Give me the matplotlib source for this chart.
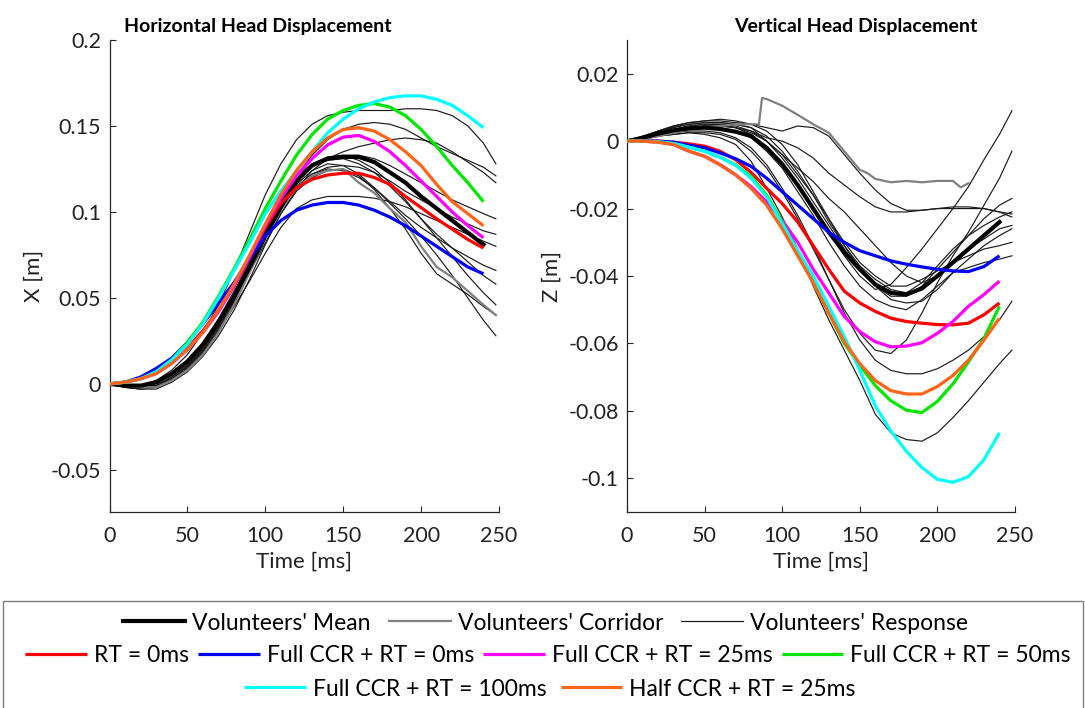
import numpy as np
import matplotlib
matplotlib.use("Agg")
import matplotlib.pyplot as plt
from matplotlib.patches import Rectangle
from matplotlib.ticker import FixedLocator, FixedFormatter
from matplotlib.font_manager import FontProperties

# ---------------- data ----------------
T_VOL = [0, 10, 20, 30, 40, 50, 60, 70, 80, 90, 100, 110, 120, 130, 140, 150,
         160, 170, 180, 190, 200, 210, 220, 230, 240, 248]
T_MOD = [0, 10, 20, 30, 40, 50, 60, 70, 80, 90, 100, 110, 120, 130, 140, 150,
         160, 170, 180, 190, 200, 210, 220, 230, 240]

# Horizontal (X) - volunteers' responses
x_vol_1 = [0, -0.001, -0.001, 0.002, 0.008, 0.017, 0.030, 0.046, 0.066, 0.088, 0.110, 0.128, 0.142, 0.151, 0.156, 0.158, 0.159, 0.159, 0.159, 0.160, 0.160, 0.159, 0.156, 0.150, 0.140, 0.128]
x_vol_2 = [0, -0.001, -0.002, 0.000, 0.005, 0.013, 0.024, 0.038, 0.054, 0.071, 0.089, 0.106, 0.121, 0.133, 0.142, 0.148, 0.151, 0.152, 0.151, 0.148, 0.143, 0.138, 0.134, 0.130, 0.126, 0.121]
x_vol_3 = [0, -0.001, -0.002, -0.001, 0.004, 0.011, 0.021, 0.034, 0.049, 0.065, 0.082, 0.099, 0.113, 0.124, 0.131, 0.135, 0.138, 0.140, 0.142, 0.143, 0.142, 0.140, 0.135, 0.129, 0.123, 0.117]
x_vol_4 = [0, -0.001, -0.002, -0.001, 0.004, 0.011, 0.021, 0.035, 0.051, 0.069, 0.088, 0.105, 0.119, 0.127, 0.131, 0.133, 0.133, 0.131, 0.127, 0.122, 0.117, 0.112, 0.107, 0.103, 0.099, 0.096]
x_vol_5 = [0, -0.002, -0.003, -0.002, 0.002, 0.009, 0.019, 0.032, 0.048, 0.066, 0.085, 0.101, 0.114, 0.122, 0.126, 0.127, 0.126, 0.123, 0.118, 0.112, 0.107, 0.102, 0.097, 0.093, 0.089, 0.087]
x_vol_6 = [0, -0.001, -0.002, -0.001, 0.003, 0.010, 0.019, 0.031, 0.045, 0.060, 0.076, 0.091, 0.102, 0.107, 0.109, 0.109, 0.109, 0.108, 0.106, 0.103, 0.099, 0.095, 0.091, 0.087, 0.083, 0.080]
x_vol_7 = [0, -0.002, -0.003, -0.002, 0.002, 0.008, 0.017, 0.030, 0.046, 0.065, 0.085, 0.102, 0.115, 0.122, 0.125, 0.124, 0.120, 0.114, 0.106, 0.098, 0.091, 0.085, 0.079, 0.074, 0.069, 0.066]
x_vol_8 = [0, -0.001, -0.002, -0.001, 0.003, 0.010, 0.020, 0.033, 0.049, 0.068, 0.088, 0.106, 0.119, 0.127, 0.130, 0.131, 0.128, 0.123, 0.115, 0.106, 0.096, 0.087, 0.079, 0.071, 0.063, 0.058]
x_vol_9 = [0, -0.002, -0.003, -0.003, 0.001, 0.007, 0.016, 0.028, 0.043, 0.061, 0.081, 0.099, 0.112, 0.120, 0.124, 0.125, 0.121, 0.113, 0.102, 0.090, 0.076, 0.064, 0.058, 0.052, 0.045, 0.040]
x_vol_10 = [0, -0.001, -0.002, -0.002, 0.002, 0.009, 0.018, 0.031, 0.047, 0.066, 0.086, 0.104, 0.116, 0.124, 0.128, 0.127, 0.122, 0.114, 0.105, 0.096, 0.086, 0.075, 0.063, 0.050, 0.037, 0.028]
x_vol_11 = [0, -0.001, -0.002, -0.001, 0.003, 0.010, 0.020, 0.034, 0.051, 0.071, 0.092, 0.109, 0.121, 0.128, 0.132, 0.133, 0.130, 0.125, 0.117, 0.107, 0.096, 0.085, 0.074, 0.063, 0.053, 0.046]
x_corridor = [0, -0.001, -0.002, -0.002, 0.002, 0.008, 0.017, 0.030, 0.046, 0.065, 0.085, 0.102, 0.114, 0.121, 0.124, 0.125, 0.117, 0.111, 0.102, 0.094, 0.080, 0.068, 0.062, 0.054, 0.046, 0.040]
x_mean = [0, -0.001, -0.001, 0.001, 0.006, 0.013, 0.023, 0.036, 0.051, 0.068, 0.086, 0.103, 0.118, 0.127, 0.131, 0.132, 0.132, 0.129, 0.123, 0.117, 0.109, 0.102, 0.095, 0.088, 0.081]

# Horizontal (X) - model responses
x_rt0 = [0, 0.001, 0.003, 0.007, 0.013, 0.021, 0.031, 0.043, 0.057, 0.073, 0.091, 0.105, 0.114, 0.119, 0.1215, 0.1225, 0.1225, 0.120, 0.116, 0.109, 0.1025, 0.096, 0.090, 0.084, 0.079]
x_full_rt0 = [0, 0.001, 0.004, 0.009, 0.015, 0.024, 0.035, 0.047, 0.059, 0.073, 0.086, 0.095, 0.101, 0.104, 0.1055, 0.1055, 0.104, 0.101, 0.097, 0.092, 0.086, 0.080, 0.074, 0.068, 0.064]
x_full_rt25 = [0, 0.001, 0.003, 0.006, 0.012, 0.020, 0.030, 0.042, 0.057, 0.074, 0.092, 0.108, 0.121, 0.131, 0.139, 0.1435, 0.1445, 0.141, 0.135, 0.127, 0.118, 0.109, 0.100, 0.092, 0.085]
x_full_rt50 = [0, 0.001, 0.003, 0.007, 0.014, 0.024, 0.036, 0.051, 0.067, 0.084, 0.102, 0.118, 0.133, 0.145, 0.154, 0.159, 0.162, 0.163, 0.161, 0.156, 0.148, 0.138, 0.127, 0.117, 0.106]
x_full_rt100 = [0, 0.001, 0.003, 0.007, 0.014, 0.023, 0.035, 0.050, 0.066, 0.082, 0.099, 0.112, 0.124, 0.135, 0.146, 0.154, 0.160, 0.164, 0.1665, 0.1675, 0.1675, 0.1655, 0.162, 0.156, 0.149]
x_half_rt25 = [0, 0.001, 0.003, 0.006, 0.012, 0.020, 0.030, 0.043, 0.058, 0.075, 0.093, 0.110, 0.124, 0.135, 0.143, 0.148, 0.149, 0.147, 0.142, 0.135, 0.127, 0.116, 0.106, 0.099, 0.092]

# Vertical (Z) - volunteers' responses
z_vol_1 = [0, 0.001, 0.003, 0.0045, 0.0055, 0.006, 0.006, 0.0055, 0.005, 0.004, 0.003, 0.0045, 0.004, 0.0015, -0.004, -0.0095, -0.0145, -0.0185, -0.0205, -0.0205, -0.020, -0.020, -0.020, -0.020, -0.021, -0.0216]
z_vol_2 = [0, 0.0008, 0.002, 0.003, 0.004, 0.0045, 0.0045, 0.004, 0.003, 0.001, 0.000, -0.002, -0.005, -0.0095, -0.013, -0.0165, -0.0195, -0.021, -0.021, -0.0205, -0.020, -0.0195, -0.0195, -0.020, -0.021, -0.0225]
z_vol_3 = [0, 0.001, 0.0025, 0.0035, 0.0045, 0.005, 0.005, 0.004, 0.002, -0.002, -0.007, -0.013, -0.020, -0.027, -0.034, -0.040, -0.044, -0.0425, -0.0375, -0.032, -0.026, -0.020, -0.0135, -0.0055, 0.002, 0.009]
z_vol_4 = [0, 0.0005, 0.0015, 0.002, 0.0025, 0.0025, 0.002, 0.0005, -0.003, -0.008, -0.015, -0.023, -0.032, -0.041, -0.050, -0.057, -0.062, -0.063, -0.059, -0.051, -0.042, -0.034, -0.027, -0.019, -0.011, -0.003]
z_vol_5 = [0, 0.0005, 0.0015, 0.002, 0.0025, 0.002, 0.001, -0.001, -0.006, -0.014, -0.0225, -0.032, -0.043, -0.053, -0.062, -0.071, -0.081, -0.0865, -0.0885, -0.089, -0.0865, -0.082, -0.077, -0.0715, -0.066, -0.062]
z_vol_6 = [0, 0.0005, 0.0015, 0.0025, 0.003, 0.003, 0.0025, 0.001, -0.002, -0.007, -0.014, -0.022, -0.031, -0.041, -0.051, -0.059, -0.065, -0.068, -0.069, -0.069, -0.0675, -0.065, -0.062, -0.058, -0.053, -0.0475]
z_vol_7 = [0, 0.001, 0.0025, 0.0035, 0.0045, 0.005, 0.005, 0.0045, 0.003, 0.000, -0.005, -0.011, -0.018, -0.025, -0.032, -0.038, -0.043, -0.046, -0.046, -0.043, -0.038, -0.033, -0.028, -0.023, -0.019, -0.017]
z_vol_8 = [0, 0.0015, 0.003, 0.0045, 0.0055, 0.006, 0.0065, 0.006, 0.005, 0.003, -0.001, -0.007, -0.015, -0.023, -0.031, -0.038, -0.043, -0.047, -0.048, -0.0475, -0.044, -0.039, -0.035, -0.031, -0.028, -0.026]
z_vol_9 = [0, 0.001, 0.002, 0.003, 0.004, 0.0045, 0.0045, 0.004, 0.0025, 0.000, -0.004, -0.010, -0.016, -0.023, -0.030, -0.036, -0.040, -0.043, -0.043, -0.041, -0.0385, -0.036, -0.034, -0.032, -0.031, -0.030]
z_vol_10 = [0, 0.0005, 0.0015, 0.0025, 0.0035, 0.004, 0.004, 0.003, 0.001, -0.003, -0.008, -0.015, -0.022, -0.030, -0.037, -0.043, -0.047, -0.049, -0.050, -0.047, -0.043, -0.039, -0.0375, -0.036, -0.035, -0.034]
z_vol_11 = [0, 0.0012, 0.0028, 0.0042, 0.005, 0.0055, 0.0055, 0.005, 0.004, 0.0015, -0.003, -0.009, -0.016, -0.024, -0.031, -0.037, -0.041, -0.044, -0.045, -0.042, -0.037, -0.032, -0.028, -0.025, -0.0225, -0.021]
z_vol_12 = [0, 0.001, 0.0025, 0.004, 0.005, 0.0055, 0.0055, 0.005, 0.004, 0.000, -0.004, -0.008, -0.012, -0.017, -0.021, -0.026, -0.031, -0.036, -0.040, -0.042, -0.040, -0.036, -0.032, -0.029, -0.026, -0.025]
T_CORR_Z = [0, 10, 20, 30, 40, 50, 60, 70, 80, 85, 87, 90, 100, 110, 120, 130, 140, 150, 155, 160, 170, 180, 190, 200, 210, 215, 220]
z_corridor = [0, 0.0005, 0.0015, 0.0025, 0.0035, 0.004, 0.0045, 0.005, 0.005, 0.005, 0.0128, 0.0125, 0.0105, 0.0078, 0.005, 0.0025, -0.003, -0.0085, -0.0095, -0.0112, -0.0122, -0.0118, -0.0122, -0.0118, -0.0118, -0.0137, -0.0125]
z_mean = [0, 0.001, 0.0022, 0.0032, 0.0038, 0.004, 0.0036, 0.0028, 0.0015, -0.002, -0.0068, -0.013, -0.020, -0.027, -0.033, -0.038, -0.0425, -0.045, -0.0455, -0.0437, -0.040, -0.036, -0.032, -0.028, -0.024]

# Vertical (Z) - model responses
z_rt0 = [0, 0, 0, -0.0003, -0.0008, -0.0015, -0.003, -0.0055, -0.0093, -0.014, -0.0185, -0.024, -0.031, -0.038, -0.0445, -0.048, -0.0505, -0.0525, -0.0535, -0.054, -0.0544, -0.0545, -0.054, -0.0515, -0.048]
z_full_rt0 = [0, 0, 0, -0.0003, -0.0012, -0.002, -0.0035, -0.0052, -0.0075, -0.011, -0.015, -0.019, -0.023, -0.027, -0.030, -0.0325, -0.034, -0.0355, -0.0365, -0.0373, -0.038, -0.0385, -0.0387, -0.0372, -0.034]
z_full_rt25 = [0, 0, -0.0003, -0.001, -0.003, -0.0045, -0.007, -0.010, -0.0135, -0.018, -0.0235, -0.030, -0.038, -0.045, -0.052, -0.0565, -0.0595, -0.061, -0.0608, -0.0598, -0.057, -0.0535, -0.049, -0.0455, -0.0415]
z_full_rt50 = [0, 0, -0.0002, -0.0007, -0.0018, -0.003, -0.0048, -0.007, -0.0105, -0.016, -0.024, -0.033, -0.042, -0.051, -0.060, -0.0665, -0.0725, -0.077, -0.0798, -0.0805, -0.0772, -0.072, -0.0655, -0.0585, -0.049]
z_full_rt100 = [0, 0, -0.0002, -0.0007, -0.0018, -0.003, -0.0048, -0.0072, -0.011, -0.0165, -0.0245, -0.0325, -0.040, -0.049, -0.058, -0.068, -0.0785, -0.086, -0.092, -0.0968, -0.1003, -0.1012, -0.0995, -0.0945, -0.0865]
z_half_rt25 = [0, 0, -0.0003, -0.001, -0.003, -0.0045, -0.007, -0.010, -0.014, -0.019, -0.026, -0.034, -0.042, -0.051, -0.0595, -0.066, -0.071, -0.074, -0.075, -0.075, -0.0728, -0.0695, -0.065, -0.059, -0.0525]

x_vols = [x_vol_1, x_vol_2, x_vol_3, x_vol_4, x_vol_5, x_vol_6, x_vol_7, x_vol_8, x_vol_9, x_vol_10, x_vol_11]
z_vols = [z_vol_1, z_vol_2, z_vol_3, z_vol_4, z_vol_5, z_vol_6, z_vol_7, z_vol_8, z_vol_9, z_vol_10, z_vol_11, z_vol_12]

model_labels = ["RT = 0ms", "Full CCR + RT = 0ms", "Full CCR + RT = 25ms",
                "Full CCR + RT = 50ms", "Full CCR + RT = 100ms", "Half CCR + RT = 25ms"]
model_colors = ["#ff0000", "#0000ff", "#ff00ff", "#00e600", "#00ffff", "#ff6418"]
x_models = [x_rt0, x_full_rt0, x_full_rt25, x_full_rt50, x_full_rt100, x_half_rt25]
z_models = [z_rt0, z_full_rt0, z_full_rt25, z_full_rt50, z_full_rt100, z_half_rt25]

x_ticks = [0, 50, 100, 150, 200, 250]
x_tick_labels = ["0", "50", "100", "150", "200", "250"]
xl_yticks = [-0.05, 0, 0.05, 0.1, 0.15, 0.2]
xl_ytick_labels = ["-0.05", "0", "0.05", "0.1", "0.15", "0.2"]
zr_yticks = [-0.1, -0.08, -0.06, -0.04, -0.02, 0, 0.02]
zr_ytick_labels = ["-0.1", "-0.08", "-0.06", "-0.04", "-0.02", "0", "0.02"]

# ---------------- figure ----------------
plt.rcParams["font.family"] = ["Lato", "DejaVu Sans"]
fig = plt.figure(figsize=(10.85, 7.08), dpi=100)
axL = fig.add_axes([109.5 / 1085, 1 - 512 / 708, 389.5 / 1085, 472 / 708])
axR = fig.add_axes([627 / 1085, 1 - 512 / 708, 388 / 1085, 472 / 708])

axis_col = "#262626"


def draw(ax, vols, t_corr, corr, mean, models):
    hv = None
    for v in vols:
        hv, = ax.plot(T_VOL, v, color="#1a1a1a", lw=0.85, zorder=2)
    hc, = ax.plot(t_corr, corr, color="#808080", lw=1.6, zorder=3)
    hm, = ax.plot(T_MOD, mean, color="black", lw=3.0, zorder=4)
    hmod = []
    for m, c in zip(models, model_colors):
        h, = ax.plot(T_MOD, m, color=c, lw=2.3, zorder=5, solid_capstyle="butt")
        hmod.append(h)
    return hm, hc, hv, hmod


hm, hc, hv, hmod = draw(axL, x_vols, T_VOL, x_corridor, x_mean, x_models)
draw(axR, z_vols, T_CORR_Z, z_corridor, z_mean, z_models)

for ax in (axL, axR):
    ax.set_xlim(0, 250)
    for s in ("top", "right"):
        ax.spines[s].set_visible(False)
    for s in ("left", "bottom"):
        ax.spines[s].set_color(axis_col)
        ax.spines[s].set_linewidth(0.9)
    ax.xaxis.set_major_locator(FixedLocator(x_ticks))
    ax.xaxis.set_major_formatter(FixedFormatter(x_tick_labels))
    ax.tick_params(axis="both", direction="in", length=4, width=0.8,
                   color=axis_col, labelcolor="#222222", labelsize=15.5)
    ax.tick_params(axis="x", pad=10)
    ax.tick_params(axis="y", pad=6)
    ax.set_xlabel("Time [ms]", fontsize=16, color="#222222", labelpad=4)

axL.set_ylim(-0.0745, 0.2)
axL.yaxis.set_major_locator(FixedLocator(xl_yticks))
axL.yaxis.set_major_formatter(FixedFormatter(xl_ytick_labels))
axL.set_ylabel("X [m]", fontsize=16, color="#222222", labelpad=5)
axL.set_title("Horizontal Head Displacement", fontsize=14, fontweight="bold",
              x=0.382, pad=6)

axR.set_ylim(-0.11, 0.03)
axR.yaxis.set_major_locator(FixedLocator(zr_yticks))
axR.yaxis.set_major_formatter(FixedFormatter(zr_ytick_labels))
axR.set_ylabel("Z [m]", fontsize=16, color="#222222", labelpad=5)
axR.set_title("Vertical Head Displacement", fontsize=14, fontweight="bold",
              x=0.59, pad=6)

# ---------------- legend ----------------
fig.patches.append(Rectangle((3 / 1085, -0.01), 1080 / 1085, 0.151 + 0.01,
                             transform=fig.transFigure, fill=False,
                             edgecolor="#7f7f7f", lw=1.0))
legfont = FontProperties(family=["Lato"], size=16.5)
leg_kw = dict(frameon=False, prop=legfont, handlelength=2.7, handletextpad=0.3,
              loc="center", borderaxespad=0, borderpad=0)
fig.legend([hm, hc, hv], ["Volunteers' Mean", "Volunteers' Corridor", "Volunteers' Response"],
           ncol=3, columnspacing=0.8, bbox_to_anchor=(0.503, 1 - 623 / 708), **leg_kw)
fig.legend(hmod[:4], model_labels[:4], ncol=4, columnspacing=0.4,
           bbox_to_anchor=(0.505, 1 - 656 / 708), **leg_kw)
fig.legend(hmod[4:], model_labels[4:], ncol=2, columnspacing=0.6,
           bbox_to_anchor=(0.507, 1 - 689 / 708), **leg_kw)

fig.savefig("out.png", dpi=100)
